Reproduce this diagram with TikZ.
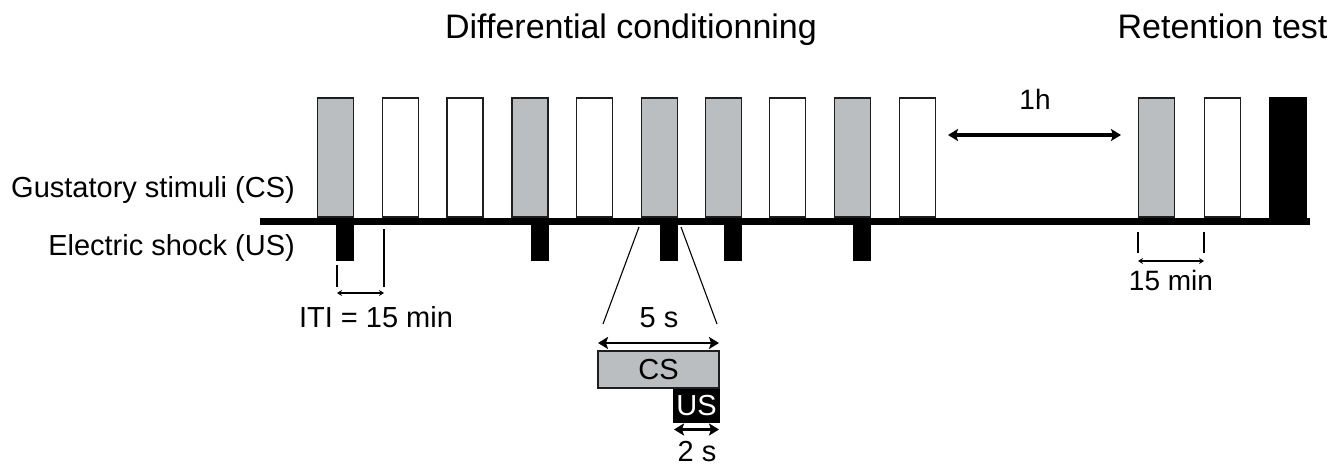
\documentclass[tikz,border=0pt]{standalone}
\usepackage{fontspec}
\setmainfont{Liberation Sans}
\usetikzlibrary{arrows.meta}
\definecolor{csgrey}{RGB}{187,190,193}
\definecolor{barline}{RGB}{30,30,30}
\begin{document}
\begin{tikzpicture}[x=1pt,y=-1pt,
  bar/.style={draw=barline, line width=1.7pt, minimum width=36pt, minimum height=119pt, inner sep=0pt, anchor=south},
  greybar/.style={bar, fill=csgrey},
  whitebar/.style={bar, fill=white},
  shock/.style={fill=black, draw=none, minimum width=18pt, minimum height=43pt, inner sep=0pt, anchor=north east},
  lbl/.style={inner sep=0pt, font=\fontsize{29}{32}\selectfont},
  title/.style={inner sep=0pt, font=\fontsize{34}{38}\selectfont, anchor=base},
  tick/.style={line width=1.3pt},
  bigarrow/.style={line width=3.2pt, {Stealth[length=10pt,width=12pt,inset=2pt]}-{Stealth[length=10pt,width=12pt,inset=2pt]}},
  smallarrow/.style={line width=1.5pt, {Stealth[length=5pt,width=6pt]}-{Stealth[length=5pt,width=6pt]}},
  zoomline/.style={line width=1.1pt}
]
\useasboundingbox (0,0) rectangle (1344,466);

% titles
\node[title] (t1) at (631,38) {Differential conditionning};
\node[title] (t2) at (1222.5,38) {Retention test};

% row labels
\node[lbl, anchor=base east] (gs) at (295,197) {Gustatory stimuli (CS)};
\node[lbl, anchor=base east] (es) at (295,255) {Electric shock (US)};

% conditioning bars
\node[greybar]  (b1)  at (335.5,218) {};
\node[whitebar] (b2)  at (400.5,218) {};
\node[whitebar] (b3)  at (465,218) {};
\node[greybar]  (b4)  at (530,218) {};
\node[whitebar] (b5)  at (594.5,218) {};
\node[greybar]  (b6)  at (659.5,218) {};
\node[greybar]  (b7)  at (723.5,218) {};
\node[whitebar] (b8)  at (787.5,218) {};
\node[greybar]  (b9)  at (852.5,218) {};
\node[whitebar] (b10) at (917.5,218) {};

% retention bars
\node[greybar]  (r1) at (1156.5,218) {};
\node[whitebar] (r2) at (1222.5,218) {};
\node[bar, fill=black, draw=black, minimum width=37pt] (r3) at (1288,218) {};

% shocks
\node[shock] (s1) at (b1.south east) {};
\node[shock] (s4) at (b4.south east) {};
\node[shock] (s6) at (b6.south east) {};
\node[shock] (s7) at (b7.south east) {};
\node[shock] (s9) at (b9.south east) {};

% timeline
\coordinate (tlA) at (260,221);
\coordinate (tlB) at (1310,221);
\draw[line width=7pt] (tlA) -- (tlB);

% 1h arrow
\coordinate (hA) at (948,135);
\coordinate (hB) at (1121,135);
\draw[bigarrow] (hA) -- (hB);
\node[lbl, font=\fontsize{28}{30}\selectfont] (h1) at (1035,99) {1h};

% ITI
\coordinate (iA1) at (337,265);
\coordinate (iA2) at (337,287);
\coordinate (iB1) at (384,229);
\coordinate (iB2) at (384,287);
\coordinate (iL) at (337,293);
\coordinate (iR) at (384,293);
\draw[tick] (iA1) -- (iA2);
\draw[tick] (iB1) -- (iB2);
\draw[smallarrow] (iL) -- (iR);
\node[lbl] (iti) at (376,317) {ITI = 15 min};

% 15 min retention
\coordinate (mA1) at (1138,232);
\coordinate (mA2) at (1138,253);
\coordinate (mB1) at (1204,232);
\coordinate (mB2) at (1204,253);
\coordinate (mL) at (1138,261);
\coordinate (mR) at (1204,261);
\draw[tick] (mA1) -- (mA2);
\draw[tick] (mB1) -- (mB2);
\draw[smallarrow] (mL) -- (mR);
\node[lbl, font=\fontsize{28}{30}\selectfont] (m15) at (1171,280) {15 min};

% zoom lines
\coordinate (zA1) at (639,227);
\coordinate (zA2) at (603,324);
\coordinate (zB1) at (681,227);
\coordinate (zB2) at (717,324);
\draw[zoomline] (zA1) -- (zA2);
\draw[zoomline] (zB1) -- (zB2);

% 5 s
\node[lbl] (five) at (659,317.5) {5 s};
\coordinate (fA) at (598,343);
\coordinate (fB) at (719,343);
\draw[bigarrow, line width=2.6pt] (fA) -- (fB);

% CS / US detail
\node[draw=barline, line width=1.4pt, fill=csgrey, minimum width=121pt, minimum height=37pt, inner sep=0pt, font=\fontsize{29}{32}\selectfont] (cs) at (658.5,369.5) {CS};
\node[fill=black, draw=black, line width=1.4pt, minimum width=45pt, minimum height=33pt, inner sep=0pt, text=white, font=\fontsize{29}{32}\selectfont, anchor=north east] (us) at (cs.south east) {US};
\coordinate (tA) at (674,429.5);
\coordinate (tB) at (719,429.5);
\draw[bigarrow, line width=2.6pt] (tA) -- (tB);
\node[lbl, anchor=base] (two) at (697,461) {2 s};
\end{tikzpicture}
\end{document}
